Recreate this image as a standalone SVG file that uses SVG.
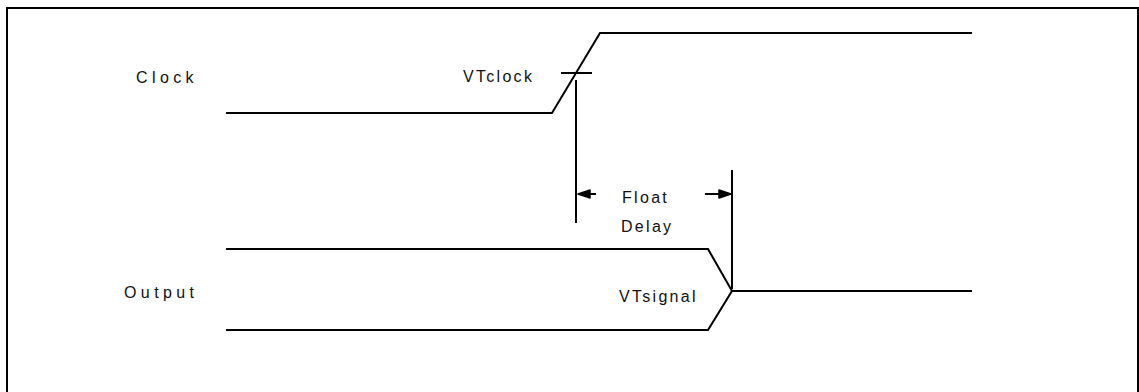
<svg xmlns="http://www.w3.org/2000/svg" width="1139" height="392" viewBox="0 0 1139 392">
<defs>
<style>
.ln{fill:none;stroke:#000;stroke-width:2;stroke-linejoin:miter}
.t{font-family:"Liberation Sans",Arial,sans-serif;font-size:16px;fill:#111}
.big{letter-spacing:4.4px}
.sm{letter-spacing:2.3px}
.ah{fill:#000;stroke:#000;stroke-width:1.5;stroke-linejoin:round}
</style>
</defs>
<rect width="1139" height="392" fill="#fff"/>
<path class="ln" d="M7,392 V8 H1138 V392" stroke-width="2"/>
<g id="clock-label"><text class="t big" x="136" y="83">Clock</text></g>
<g id="output-label"><text class="t big" x="124" y="298">Output</text></g>
<g id="clock-signal"><path class="ln" d="M226,113 H552 L600,33 H972"/></g>
<g id="output-signal">
<path class="ln" d="M226,249 H708 L732,291 H972"/>
<path class="ln" d="M226,330 H708 L732,291"/>
</g>
<g id="vtclock"><text class="t sm" x="463" y="82">VTclock</text></g>
<g id="vtsignal"><text class="t sm" x="619" y="302">VTsignal</text></g>
<g id="float-delay">
<text class="t sm" x="622" y="203">Float</text>
<text class="t sm" x="621" y="232">Delay</text>
</g>
<g id="connectors">
<path class="ln" d="M561,73 H592"/>
<path class="ln" d="M576,80 V223"/>
<path class="ln" d="M732,170 V289"/>
<path class="ln" d="M588,194 H596"/>
<polygon class="ah" points="578,194 590,190 590,198"/>
<path class="ln" d="M705,194 H722"/>
<polygon class="ah" points="731,194 719,190 719,198"/>
</g>
</svg>
